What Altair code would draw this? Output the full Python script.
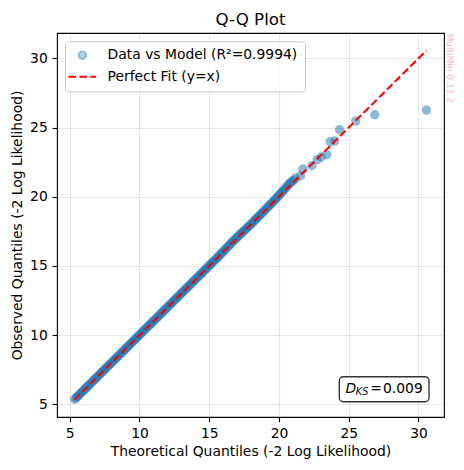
import altair as alt
import pandas as pd

# ---- values ----
theoretical = [
    5.35, 5.45, 5.55, 5.65, 5.75, 5.85, 5.95, 6.05, 6.15, 6.25,
    6.35, 6.45, 6.55, 6.65, 6.75, 6.85, 6.95, 7.05, 7.15, 7.25,
    7.35, 7.45, 7.55, 7.65, 7.75, 7.85, 7.95, 8.05, 8.15, 8.25,
    8.35, 8.45, 8.55, 8.65, 8.75, 8.85, 8.95, 9.05, 9.15, 9.25,
    9.35, 9.45, 9.55, 9.65, 9.75, 9.85, 9.95, 10.05, 10.15, 10.25,
    10.35, 10.45, 10.55, 10.65, 10.75, 10.85, 10.95, 11.05, 11.15, 11.25,
    11.35, 11.45, 11.55, 11.65, 11.75, 11.85, 11.95, 12.05, 12.15, 12.25,
    12.35, 12.45, 12.55, 12.65, 12.75, 12.85, 12.95, 13.05, 13.15, 13.25,
    13.35, 13.45, 13.55, 13.65, 13.75, 13.85, 13.95, 14.05, 14.15, 14.25,
    14.35, 14.45, 14.55, 14.65, 14.75, 14.85, 14.95, 15.05, 15.15, 15.25,
    15.35, 15.45, 15.55, 15.65, 15.75, 15.85, 15.95, 16.05, 16.15, 16.25,
    16.35, 16.45, 16.55, 16.65, 16.75, 16.85, 16.95, 17.05, 17.15, 17.25,
    17.35, 17.45, 17.55, 17.65, 17.75, 17.85, 17.95, 18.05, 18.15, 18.25,
    18.35, 18.45, 18.55, 18.65, 18.75, 18.85, 18.95, 19.05, 19.15, 19.25,
    19.35, 19.45, 19.55, 19.65, 19.75, 19.85, 19.95, 20.05, 20.15, 20.25,
    20.35, 20.45, 20.55, 20.65, 20.76, 20.85, 20.95, 21.05, 21.20, 21.55,
    21.71, 22.36, 22.74, 23.03, 23.43, 23.67, 24.00, 24.34, 25.51, 26.87,
    30.57,
]
observed = [
    5.37, 5.47, 5.57, 5.66, 5.77, 5.87, 5.96, 6.07, 6.17, 6.26,
    6.37, 6.47, 6.56, 6.67, 6.77, 6.86, 6.97, 7.07, 7.16, 7.27,
    7.37, 7.46, 7.57, 7.67, 7.76, 7.87, 7.97, 8.06, 8.17, 8.27,
    8.36, 8.47, 8.57, 8.66, 8.77, 8.87, 8.96, 9.07, 9.17, 9.26,
    9.37, 9.47, 9.56, 9.67, 9.77, 9.86, 9.97, 10.07, 10.16, 10.27,
    10.37, 10.46, 10.57, 10.67, 10.76, 10.87, 10.97, 11.06, 11.17, 11.27,
    11.36, 11.47, 11.57, 11.66, 11.77, 11.87, 11.96, 12.07, 12.17, 12.27,
    12.36, 12.47, 12.57, 12.66, 12.77, 12.87, 12.97, 13.07, 13.17, 13.27,
    13.37, 13.47, 13.56, 13.67, 13.77, 13.87, 13.97, 14.07, 14.17, 14.27,
    14.37, 14.47, 14.56, 14.67, 14.77, 14.87, 14.97, 15.07, 15.17, 15.27,
    15.37, 15.47, 15.57, 15.67, 15.77, 15.88, 15.98, 16.09, 16.19, 16.30,
    16.41, 16.51, 16.62, 16.72, 16.82, 16.92, 17.02, 17.12, 17.22, 17.32,
    17.41, 17.50, 17.59, 17.69, 17.78, 17.88, 17.98, 18.08, 18.18, 18.28,
    18.38, 18.48, 18.59, 18.69, 18.79, 18.89, 19.00, 19.10, 19.20, 19.30,
    19.41, 19.51, 19.62, 19.72, 19.83, 19.94, 20.05, 20.16, 20.27, 20.38,
    20.49, 20.60, 20.71, 20.83, 20.95, 21.04, 21.12, 21.20, 21.35, 21.52,
    22.00, 22.24, 22.68, 22.87, 23.04, 23.98, 24.03, 24.84, 25.47, 25.92,
    26.26,
]
r_squared = 0.9994
d_ks = 0.009
x_ticks = [5, 10, 15, 20, 25, 30]
y_ticks = [5, 10, 15, 20, 25, 30]
title_text = "Q-Q Plot"
x_label = "Theoretical Quantiles (-2 Log Likelihood)"
y_label = "Observed Quantiles (-2 Log Likelihood)"
watermark_text = "MultiMin 0.11.2"

data_label = f"Data vs Model (R\u00b2={r_squared})"
fit_label = "Perfect Fit (y=x)"
series_domain = [data_label, fit_label]

FONT = "DejaVu Sans"
W, H = 387, 384

# ---- tables built from the arrays ----
lo = min(theoretical + observed)
hi = max(theoretical + observed)
pad = 0.05 * (hi - lo)
dom = [lo - pad, hi + pad]

df = pd.DataFrame({"theoretical": theoretical, "observed": observed, "series": data_label})
fit_df = pd.DataFrame({"theoretical": [lo, hi], "observed": [lo, hi]})

x_enc = alt.X("theoretical:Q",
              scale=alt.Scale(domain=dom, nice=False, zero=False),
              axis=alt.Axis(values=x_ticks, title=x_label, titlePadding=4))
y_enc = alt.Y("observed:Q",
              scale=alt.Scale(domain=dom, nice=False, zero=False),
              axis=alt.Axis(values=y_ticks, title=y_label, titlePadding=5.6))

dash_path = "M-3.75,0H-1.67M-0.78,0H1.29M2.18,0H3.75"

legend_kw = dict(
    title=None, orient="none", legendX=8, legendY=8.3, padding=7,
    fillColor="rgba(255,255,255,0.8)", strokeColor="#cccccc", cornerRadius=3,
    labelFont=FONT, labelFontSize=13.89, labelColor="black", labelLimit=400,
    labelOffset=18.3, symbolOffset=3.4, rowPadding=5.4,
    symbolSize=55, symbolStrokeWidth=2,
)

points = alt.Chart(df).mark_point(filled=True, size=55, strokeWidth=2).encode(
    x=x_enc,
    y=y_enc,
    fill=alt.Fill("series:N", scale=alt.Scale(domain=series_domain, range=["#1f77b4", "transparent"]),
                  legend=alt.Legend(**legend_kw)),
    stroke=alt.Stroke("series:N", scale=alt.Scale(domain=series_domain, range=["#1f77b4", "red"]),
                      legend=alt.Legend(**legend_kw)),
    shape=alt.Shape("series:N", scale=alt.Scale(domain=series_domain, range=["circle", dash_path]),
                    legend=alt.Legend(**legend_kw)),
    opacity=alt.Opacity("series:N", scale=alt.Scale(domain=series_domain, range=[0.5, 1.0]),
                        legend=alt.Legend(**legend_kw)),
)

fit_line = alt.Chart(fit_df).mark_line(color="red", strokeWidth=2.08, strokeDash=[7.7, 3.3]).encode(
    x="theoretical:Q", y="observed:Q"
)

title_mark = alt.Chart(pd.DataFrame({"t": [title_text]})).mark_text(
    font=FONT, fontSize=16.67, align="center", baseline="alphabetic", color="black"
).encode(x=alt.value(W / 2), y=alt.value(-8), text="t:N")

ks_box = alt.Chart(pd.DataFrame({"v": [d_ks]})).mark_rect(
    fill="white", fillOpacity=0.8, stroke="#333333", strokeWidth=1.39, cornerRadius=4
).encode(x=alt.value(282.3), x2=alt.value(372), y=alt.value(343.7), y2=alt.value(368.7))

ks_d = alt.Chart(pd.DataFrame({"t": ["D"]})).mark_text(
    font=FONT, fontSize=13.89, fontStyle="italic", align="left", baseline="alphabetic", color="black"
).encode(x=alt.value(288.5), y=alt.value(359.5), text="t:N")

ks_sub = alt.Chart(pd.DataFrame({"t": ["KS"]})).mark_text(
    font=FONT, fontSize=9.72, fontStyle="italic", align="left", baseline="alphabetic", color="black"
).encode(x=alt.value(298.8), y=alt.value(362.0), text="t:N")

ks_eq = alt.Chart(pd.DataFrame({"t": ["="]})).mark_text(
    font=FONT, fontSize=13.89, align="left", baseline="alphabetic", color="black"
).encode(x=alt.value(313.3), y=alt.value(359.5), text="t:N")

ks_val = alt.Chart(pd.DataFrame({"t": [f"{d_ks}"]})).mark_text(
    font=FONT, fontSize=13.89, align="left", baseline="alphabetic", color="black"
).encode(x=alt.value(326.0), y=alt.value(359.5), text="t:N")

watermark = alt.Chart(pd.DataFrame({"t": [watermark_text]})).mark_text(
    font=FONT, fontSize=9, angle=90, align="left", baseline="middle", color="#ffb9c6"
).encode(x=alt.value(393.4), y=alt.value(0.5), text="t:N")

chart = alt.layer(points, fit_line, title_mark, ks_box, ks_d, ks_sub, ks_eq, ks_val, watermark).properties(
    width=W, height=H,
    padding={"left": 49, "top": 25, "right": 12, "bottom": 45},
    autosize=alt.AutoSizeParams(type="none"),
).configure_view(
    stroke="black", strokeWidth=1.11, fill="white"
).configure_axis(
    labelFont=FONT, labelFontSize=13.89, labelColor="black", labelPadding=4.86,
    titleFont=FONT, titleFontSize=13.89, titleFontWeight="normal", titleColor="black",
    tickColor="black", tickWidth=1.11, tickSize=4.86, domain=False,
    grid=True, gridColor="#b0b0b0", gridOpacity=0.3, gridWidth=1.11,
    labelOverlap=False, labelFlush=False,
)

chart.save("out.html", embed_options={"renderer": "svg", "actions": False})
